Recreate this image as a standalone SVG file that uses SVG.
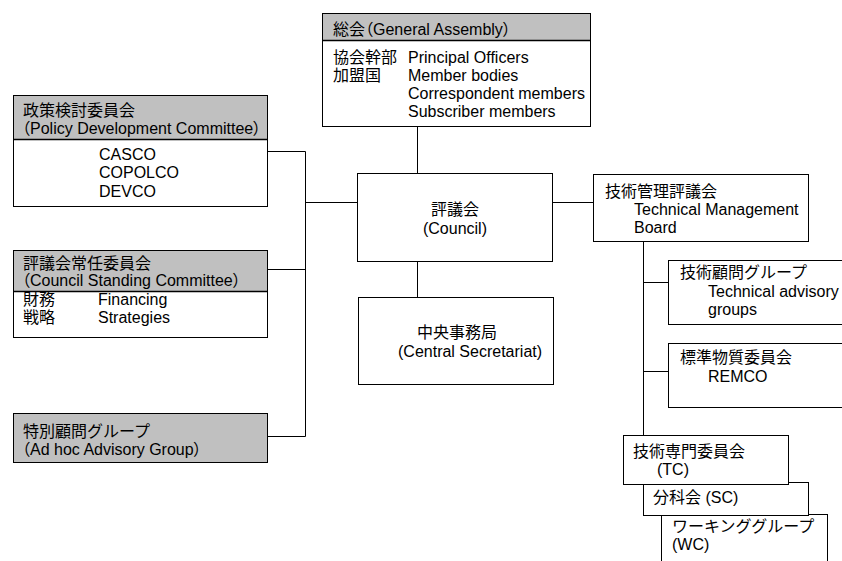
<svg xmlns="http://www.w3.org/2000/svg" width="842" height="561" viewBox="0 0 842 561">
<style>
text{font-family:"Liberation Sans","Noto Sans CJK JP",sans-serif;font-size:16px;fill:#000}
.p{font-feature-settings:"palt"}
.box{fill:#fff;stroke:#000;stroke-width:1}
.hdr{fill:#c0c0c0;stroke:#000;stroke-width:1}
.sep{stroke:#000;stroke-width:1.5}
.con{stroke:#000;stroke-width:1;fill:none}
</style>
<rect width="842" height="561" fill="#fff"/>
<g id="connectors">
<line class="con" x1="417.5" y1="126.5" x2="417.5" y2="173.5"/>
<line class="con" x1="417.5" y1="261.5" x2="417.5" y2="297.5"/>
<line class="con" x1="552.5" y1="202.5" x2="593.5" y2="202.5"/>
<line class="con" x1="305.5" y1="151.5" x2="305.5" y2="436.5"/>
<line class="con" x1="267.5" y1="151.5" x2="305.5" y2="151.5"/>
<line class="con" x1="267.5" y1="269.5" x2="305.5" y2="269.5"/>
<line class="con" x1="267.5" y1="436.5" x2="305.5" y2="436.5"/>
<line class="con" x1="305.5" y1="202.5" x2="357.5" y2="202.5"/>
<line class="con" x1="643.5" y1="241.5" x2="643.5" y2="435.5"/>
<line class="con" x1="643.5" y1="282.5" x2="668.5" y2="282.5"/>
<line class="con" x1="643.5" y1="371.5" x2="668.5" y2="371.5"/>
</g>
<g id="general-assembly">
<rect class="box" x="322.5" y="13.5" width="268" height="113"/>
<rect class="hdr" x="322.5" y="13.5" width="268" height="27"/>
<line class="sep" x1="322.5" y1="40.5" x2="590.5" y2="40.5"/>
<text class="p" x="333" y="35">総会（General Assembly）</text>
<text x="333" y="63">協会幹部</text>
<text x="333" y="81">加盟国</text>
<text x="408" y="63">Principal Officers</text>
<text x="408" y="81">Member bodies</text>
<text x="408" y="99">Correspondent members</text>
<text x="408" y="117">Subscriber members</text>
</g>
<g id="policy-development-committee">
<rect class="box" x="13.5" y="95.5" width="254" height="111"/>
<rect class="hdr" x="13.5" y="95.5" width="254" height="44"/>
<line class="sep" x1="13.5" y1="139.5" x2="267.5" y2="139.5"/>
<text x="23" y="116">政策検討委員会</text>
<text class="p" x="22" y="134">（Policy Development Committee）</text>
<text x="99" y="160">CASCO</text>
<text x="99" y="178">COPOLCO</text>
<text x="99" y="197">DEVCO</text>
</g>
<g id="council-standing-committee">
<rect class="box" x="13.5" y="250.5" width="254" height="87"/>
<rect class="hdr" x="13.5" y="250.5" width="254" height="41"/>
<line class="sep" x1="13.5" y1="291.5" x2="267.5" y2="291.5"/>
<text x="23" y="269">評議会常任委員会</text>
<text class="p" x="22" y="286">（Council Standing Committee）</text>
<text x="23" y="305">財務</text>
<text x="23" y="323">戦略</text>
<text x="98" y="305">Financing</text>
<text x="98" y="323">Strategies</text>
</g>
<g id="ad-hoc-advisory-group">
<rect class="hdr" x="13.5" y="413.5" width="254" height="49"/>
<text x="23" y="437">特別顧問グループ</text>
<text class="p" x="22" y="455">（Ad hoc Advisory Group）</text>
</g>
<g id="council">
<rect class="box" x="357.5" y="173.5" width="195" height="88"/>
<text x="455" y="215" text-anchor="middle">評議会</text>
<text x="455" y="234" text-anchor="middle">(Council)</text>
</g>
<g id="central-secretariat">
<rect class="box" x="358.5" y="297.5" width="195" height="87"/>
<text x="417" y="338">中央事務局</text>
<text x="398" y="357">(Central Secretariat)</text>
</g>
<g id="technical-management-board">
<rect class="box" x="593.5" y="174.5" width="215" height="67"/>
<text x="605" y="197">技術管理評議会</text>
<text x="634" y="215">Technical Management</text>
<text x="634" y="233">Board</text>
</g>
<g id="technical-advisory-groups">
<rect class="box" x="668.5" y="260.5" width="200" height="64"/>
<text x="680" y="278">技術顧問グループ</text>
<text x="708" y="297">Technical advisory</text>
<text x="708" y="315">groups</text>
</g>
<g id="remco">
<rect class="box" x="668.5" y="343.5" width="200" height="64"/>
<text x="680" y="363">標準物質委員会</text>
<text x="708" y="382">REMCO</text>
</g>
<g id="working-group">
<rect class="box" x="661.5" y="514.5" width="166" height="60"/>
<text x="672" y="532">ワーキンググループ</text>
<text x="672" y="550">(WC)</text>
</g>
<g id="subcommittee">
<rect class="box" x="643.5" y="482.5" width="165" height="33"/>
<text x="653" y="503">分科会 (SC)</text>
</g>
<g id="technical-committee">
<rect class="box" x="623.5" y="435.5" width="165" height="49"/>
<text x="633" y="457">技術専門委員会</text>
<text x="657" y="475">(TC)</text>
</g>
</svg>
